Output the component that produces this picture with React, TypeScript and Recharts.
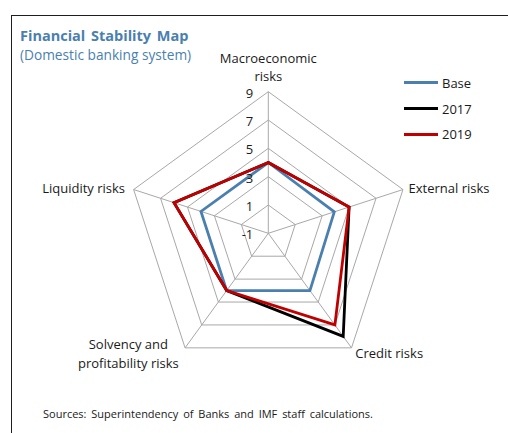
import React from 'react';
import { RadarChart, Radar, PolarGrid, PolarAngleAxis, PolarRadiusAxis, Legend } from 'recharts';

const categories = [
  'Macroeconomic risks',
  'External risks',
  'Credit risks',
  'Solvency and profitability risks',
  'Liquidity risks',
];
const categoryLines = [
  ['Macroeconomic', 'risks'],
  ['External risks'],
  ['Credit risks'],
  ['Solvency and', 'profitability risks'],
  ['Liquidity risks'],
];
const baseValues = [4, 3.9, 4, 4, 4];
const values2017 = [4, 5, 8, 4, 6];
const values2019 = [4, 5, 7, 4, 6];
const radiusDomain = [-1, 9];
const radiusTickCount = 6;

const seriesList = [
  { key: 'base', name: 'Base', color: '#4a7fb0' },
  { key: 'y2017', name: '2017', color: '#000000' },
  { key: 'y2019', name: '2019', color: '#c00000' },
];

const titleText = 'Financial Stability Map';
const subtitleText = '(Domestic banking system)';
const sourceText = 'Sources: Superintendency of Banks and IMF staff calculations.';

const data = categories.map((c, i) => ({
  category: c,
  base: baseValues[i],
  y2017: values2017[i],
  y2019: values2019[i],
}));

const FONT = '"Open Sans", sans-serif';

const labelLayout = [
  { dx: 0, dy: -21, lineGap: 18, anchor: 'middle' },
  { dx: -2, dy: 6, lineGap: 18, anchor: 'start' },
  { dx: -1, dy: 4, lineGap: 18, anchor: 'start' },
  { dx: -52, dy: -5, lineGap: 19, anchor: 'middle' },
  { dx: -1, dy: 6, lineGap: 18, anchor: 'end' },
];

const AngleTick = (props: any) => {
  const { x, y, payload } = props;
  const idx = categories.indexOf(payload.value);
  const lay = labelLayout[idx] || labelLayout[0];
  const lines = categoryLines[idx] || [String(payload.value)];
  const tx = x + lay.dx;
  return (
    <text
      x={tx}
      y={y + lay.dy}
      textAnchor={lay.anchor}
      fontFamily={FONT}
      fontSize={13}
      fill="#1a1a1a"
    >
      {lines.map((ln, k) => (
        <tspan key={k} x={tx} dy={k === 0 ? 0 : lay.lineGap}>
          {ln}
        </tspan>
      ))}
    </text>
  );
};

const RadiusTick = (props: any) => {
  const { x, y, payload } = props;
  return (
    <text
      x={x - 15}
      y={y + 1}
      textAnchor="end"
      dominantBaseline="central"
      fontFamily={FONT}
      fontSize={13}
      fill="#1a1a1a"
    >
      {payload.value}
    </text>
  );
};

const LegendContent = () => (
  <div style={{ fontFamily: FONT, fontSize: 13, color: '#1a1a1a' }}>
    {seriesList.map((s) => (
      <div key={s.key} style={{ display: 'flex', alignItems: 'center', height: 25.7 }}>
        <div style={{ width: 34, height: 3, background: s.color, marginRight: 4 }} />
        <span style={{ lineHeight: '14px' }}>{s.name}</span>
      </div>
    ))}
  </div>
);

export default function App() {
  return (
    <div
      style={{
        position: 'absolute',
        left: 0,
        top: 0,
        width: 508,
        height: 433,
        background: '#fff',
        overflow: 'hidden',
        fontFamily: FONT,
      }}
    >
      <div
        style={{
          position: 'absolute',
          left: 11,
          top: 15,
          width: 510,
          height: 430,
          borderTop: '1.3px solid #1e1e1e',
          borderLeft: '1.3px solid #1e1e1e',
        }}
      />
      <svg
        width={260}
        height={70}
        style={{ position: 'absolute', left: 0, top: 0 }}
      >
        <text x={20} y={41} fontFamily={FONT} fill="#4a7fb0">
          <tspan x={20} fontSize={14.5} fontWeight={700} wordSpacing={2}>
            {titleText}
          </tspan>
          <tspan x={20} dy={19} fontSize={13.7} fontWeight={400}>
            {subtitleText}
          </tspan>
        </text>
      </svg>
      <div
        style={{
          position: 'absolute',
          left: 43,
          top: 408,
          fontSize: 11,
          lineHeight: '11px',
          wordSpacing: 2,
          color: '#1a1a1a',
          whiteSpace: 'nowrap',
        }}
      >
        {sourceText}
      </div>
      <div style={{ position: 'absolute', left: 0, top: 0 }}>
        <RadarChart
          width={508}
          height={433}
          data={data}
          cx={268.3}
          cy={233.3}
          outerRadius={141.6}
          margin={{ top: 0, right: 0, bottom: 0, left: 0 }}
        >
          <PolarGrid gridType="polygon" stroke="#a8a8a8" strokeWidth={1} />
          <PolarAngleAxis dataKey="category" tick={AngleTick} tickLine={false} axisLine={false} />
          <PolarRadiusAxis
            angle={90}
            domain={radiusDomain}
            tickCount={radiusTickCount}
            type="number"
            axisLine={false}
            tickLine={false}
            tick={RadiusTick}
          />
          {seriesList.map((s) => (
            <Radar
              key={s.key}
              name={s.name}
              dataKey={s.key}
              stroke={s.color}
              strokeWidth={2.8}
              fill="none"
              fillOpacity={0}
              dot={false}
              isAnimationActive={false}
            />
          ))}
          <Legend
            content={LegendContent}
            wrapperStyle={{ position: 'absolute', left: 404, top: 70, width: 100 }}
          />
        </RadarChart>
      </div>
    </div>
  );
}
